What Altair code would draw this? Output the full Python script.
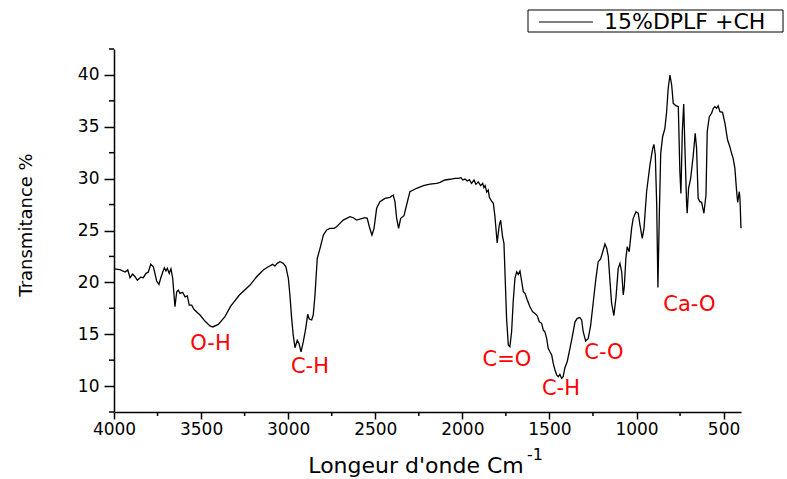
import altair as alt
import pandas as pd

# Wavenumber (cm-1) and transmittance (%)
wavenumber = [
    4000, 3966, 3937, 3921, 3908, 3893, 3879, 3866, 3847, 3832,
    3816, 3803, 3789, 3774, 3765, 3755, 3742, 3732, 3720, 3711,
    3702, 3694, 3683, 3673, 3663, 3650, 3640, 3631, 3621, 3606,
    3592, 3579, 3568, 3554, 3541, 3522, 3506, 3478, 3449, 3433,
    3401, 3363, 3330, 3280, 3219, 3181, 3143, 3114, 3089, 3076,
    3063, 3047, 3028, 3013, 2999, 2990, 2980, 2971, 2961, 2948,
    2938, 2926, 2913, 2899, 2888, 2879, 2865, 2856, 2846, 2833,
    2817, 2798, 2779, 2760, 2737, 2722, 2703, 2684, 2645, 2626,
    2607, 2588, 2559, 2546, 2534, 2519, 2507, 2492, 2473, 2444,
    2416, 2397, 2387, 2377, 2366, 2354, 2335, 2320, 2301, 2262,
    2224, 2186, 2147, 2128, 2100, 2071, 2042, 2023, 2008, 1998,
    1985, 1972, 1960, 1947, 1933, 1922, 1909, 1895, 1883, 1876,
    1869, 1860, 1851, 1845, 1832, 1822, 1813, 1800, 1788, 1780,
    1769, 1761, 1754, 1746, 1736, 1727, 1717, 1708, 1698, 1688,
    1679, 1669, 1659, 1650, 1640, 1627, 1612, 1596, 1583, 1570,
    1558, 1545, 1535, 1526, 1516, 1507, 1497, 1487, 1478, 1468,
    1458, 1449, 1440, 1430, 1421, 1411, 1398, 1382, 1367, 1353,
    1340, 1325, 1315, 1306, 1292, 1277, 1263, 1248, 1233, 1220,
    1206, 1194, 1181, 1171, 1162, 1153, 1143, 1130, 1118, 1105,
    1095, 1085, 1076, 1070, 1061, 1053, 1042, 1028, 1019, 1003,
    990, 980, 967, 957, 942, 923, 907, 900, 892, 884,
    877, 869, 861, 850, 837, 827, 818, 808, 798, 789,
    774, 760, 751, 745, 737, 729, 722, 712, 709, 701,
    689, 674, 663, 655, 646, 636, 626, 613, 601, 594,
    582, 569, 559, 550, 540, 531, 521, 506, 492, 477,
    464, 454, 445, 435, 425, 419, 410, 406, 400,
]
transmittance = [
    21.3, 21.22, 21.0, 21.2, 20.45, 20.8, 20.54, 20.2, 20.5, 20.45,
    20.87, 21.0, 21.74, 21.5, 20.87, 20.13, 19.8, 20.4, 21.0, 21.4,
    21.1, 21.35, 20.87, 21.3, 20.4, 17.65, 19.1, 19.26, 18.94, 19.04,
    18.6, 18.7, 17.8, 17.8, 17.4, 17.1, 16.85, 16.27, 15.8, 15.7,
    15.95, 16.7, 17.7, 18.78, 19.74, 20.54, 21.19, 21.5, 21.74, 21.57,
    21.83, 21.99, 21.83, 21.5, 20.39, 18.78, 16.53, 14.92, 13.7, 14.4,
    14.12, 13.3, 14.28, 15.57, 16.92, 16.46, 16.37, 16.85, 18.78, 22.32,
    23.28, 24.56, 25.05, 25.21, 25.21, 25.36, 25.69, 26.0, 26.33, 26.23,
    26.0, 26.1, 26.23, 26.17, 25.36, 24.56, 25.21, 27.14, 27.78, 28.1,
    28.2, 28.42, 27.78, 26.17, 25.21, 26.17, 26.43, 27.46, 28.74, 29.07,
    29.32, 29.48, 29.55, 29.65, 29.87, 29.94, 30.03, 30.03, 30.09, 29.87,
    29.96, 29.77, 29.9, 29.55, 29.87, 29.45, 29.7, 29.32, 29.55, 29.13,
    29.32, 28.7, 28.9, 28.2, 27.84, 27.62, 26.4, 23.8, 25.53, 26.0,
    24.4, 23.76, 20.39, 16.53, 13.96, 13.79, 15.24, 18.13, 20.39, 21.02,
    20.77, 21.1, 20.06, 19.1, 18.94, 18.3, 17.65, 17.17, 17.01, 16.78,
    16.2, 16.05, 15.4, 15.24, 14.6, 13.64, 13.31, 13.0, 12.19, 11.55,
    11.06, 10.9, 11.13, 10.75, 10.9, 11.77, 12.35, 13.64, 14.92, 16.2,
    16.53, 16.6, 16.37, 15.24, 14.34, 14.6, 15.88, 18.13, 20.39, 21.99,
    22.25, 22.95, 23.7, 23.3, 22.5, 20.3, 18.0, 16.8, 18.5, 21.35,
    21.83, 21.02, 18.78, 19.58, 22.32, 23.44, 22.95, 25.21, 26.17, 26.81,
    26.66, 25.53, 24.25, 25.21, 28.74, 31.31, 32.92, 33.31, 32.28, 27.46,
    19.5, 26.49, 32.44, 34.04, 34.85, 36.45, 38.71, 39.99, 39.03, 37.26,
    37.03, 36.94, 30.67, 28.58, 34.52, 37.2, 32.92, 27.46, 26.66, 29.07,
    30.03, 32.28, 34.37, 32.92, 28.1, 27.78, 27.72, 26.66, 28.42, 34.52,
    35.97, 36.3, 36.78, 36.94, 36.78, 37.03, 36.45, 36.4, 35.33, 33.72,
    33.08, 32.44, 31.96, 30.99, 28.74, 27.72, 28.74, 28.1, 25.21,
]

# Band assignments (label, wavenumber position, transmittance position)
band_labels = ["O-H", "C-H", "C=O", "C-H", "C-O", "Ca-O"]
band_wn = [3446, 2875, 1744, 1434, 1187, 696]
band_t = [14.05, 11.83, 12.5, 9.7, 13.2, 17.8]

x_major = [4000, 3500, 3000, 2500, 2000, 1500, 1000, 500]
x_minor = [3750, 3250, 2750, 2250, 1750, 1250, 750]
y_major = [10, 15, 20, 25, 30, 35, 40]
y_minor = [7.5, 12.5, 17.5, 22.5, 27.5, 32.5, 37.5, 42.5]

series_name = "15%DPLF +CH"
x_title = "Longeur d'onde Cm"
x_title_sup = "-1"
y_title = "Transmitance %"

FONT = "DejaVu Sans"
W, H = 627, 363

df = pd.DataFrame({"wn": wavenumber, "t": transmittance})
df_bands = pd.DataFrame({"label": band_labels, "wn": band_wn, "t": band_t})
df_xminor = pd.DataFrame({"wn": x_minor})
df_yminor = pd.DataFrame({"t": y_minor})
one = pd.DataFrame({"k": [0]})

x_scale = alt.Scale(domain=[400, 4000], reverse=True, nice=False, zero=False)
y_scale = alt.Scale(domain=[7.5, 42.5], nice=False, zero=False)

axis_common = dict(
    title=None, grid=False, labelFont=FONT, labelFontSize=17, labelColor="black",
    labelFlush=False, labelOverlap=False,
    domainColor="black", domainWidth=1.5, tickColor="black", tickWidth=1.5,
)

line = alt.Chart(df).mark_line(color="black", strokeWidth=1.3).encode(
    x=alt.X("wn:Q", scale=x_scale, axis=alt.Axis(
        values=x_major, format="d", tickSize=7, labelPadding=2, **axis_common)),
    y=alt.Y("t:Q", scale=y_scale, axis=alt.Axis(
        values=y_major, format="d", tickSize=10, labelPadding=5, **axis_common)),
)

# minor ticks placed through the same scales
xminor = alt.Chart(df_xminor).mark_rule(color="black", strokeWidth=1.5).encode(
    x=alt.X("wn:Q", scale=x_scale), y=alt.value(H), y2=alt.value(H + 4)
)
yminor = alt.Chart(df_yminor).mark_rule(color="black", strokeWidth=1.5).encode(
    y=alt.Y("t:Q", scale=y_scale), x=alt.value(-5), x2=alt.value(0)
)

bands = alt.Chart(df_bands).mark_text(
    color="#ff0000", fontSize=21, font=FONT, align="center", baseline="middle"
).encode(
    x=alt.X("wn:Q", scale=x_scale),
    y=alt.Y("t:Q", scale=y_scale),
    text="label:N",
)

legend_box = alt.Chart(one).mark_rect(fill="white", stroke="black", strokeWidth=1).encode(
    x=alt.value(414), x2=alt.value(669), y=alt.value(-39), y2=alt.value(-17)
)
legend_line = alt.Chart(one).mark_rule(color="black", strokeWidth=1).encode(
    x=alt.value(425), x2=alt.value(479), y=alt.value(-27)
)
legend_text = alt.Chart(one).mark_text(
    text=series_name, fontSize=22, font=FONT, align="left", baseline="middle", color="black"
).encode(x=alt.value(490), y=alt.value(-27))

xt = alt.Chart(one).mark_text(
    text=x_title, fontSize=22, font=FONT, align="center", baseline="middle", color="black"
).encode(x=alt.value(302), y=alt.value(417))
xt_sup = alt.Chart(one).mark_text(
    text=x_title_sup, fontSize=16, font=FONT, align="left", baseline="middle", color="black"
).encode(x=alt.value(413), y=alt.value(406))
yt = alt.Chart(one).mark_text(
    text=y_title, fontSize=18, font=FONT, align="center", baseline="middle",
    angle=270, color="black"
).encode(x=alt.value(-87), y=alt.value(176))

chart = alt.layer(
    line, xminor, yminor, bands, legend_box, legend_line, legend_text, xt, xt_sup, yt
).properties(
    width=W, height=H,
    padding={"left": 114, "top": 49, "right": 46, "bottom": 67},
    autosize=alt.AutoSizeParams(type="none"),
    background="white",
).configure_view(stroke=None)

chart.save("out.html", embed_options={"renderer": "svg", "actions": False})
